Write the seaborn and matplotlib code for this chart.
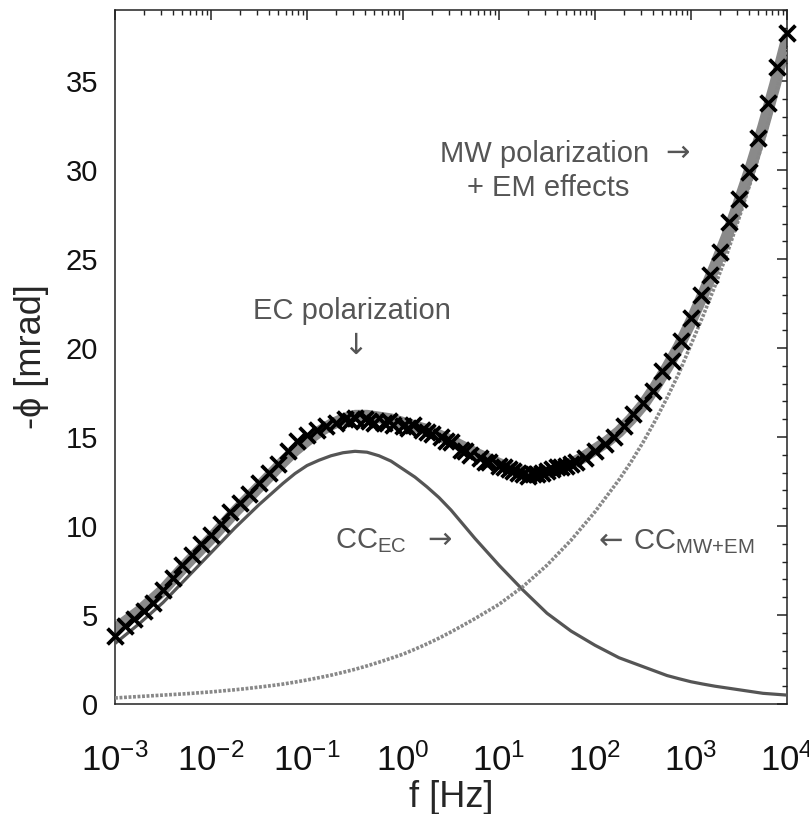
import numpy as np
import pandas as pd
import matplotlib
matplotlib.use("Agg")
import matplotlib.pyplot as plt
import seaborn as sns
from matplotlib.ticker import LogLocator, MultipleLocator, NullFormatter, FixedLocator

# ---------------- data ----------------
# measured data (log10 of frequency, -phi in mrad)
log_f_data = [-3.0, -2.9, -2.8, -2.7, -2.6, -2.5, -2.4, -2.3, -2.2, -2.1,
              -2.0, -1.9, -1.8, -1.7, -1.6, -1.5, -1.4, -1.3, -1.2, -1.1,
              -1.0, -0.9, -0.8, -0.7, -0.6, -0.5, -0.4, -0.3, -0.2, -0.1,
              0.0, 0.1, 0.2, 0.3, 0.4, 0.5, 0.6, 0.7, 0.8, 0.9,
              1.0, 1.1, 1.2, 1.3, 1.4, 1.5, 1.6, 1.7, 1.8, 1.9,
              2.0, 2.1, 2.2, 2.3, 2.4, 2.5, 2.6, 2.7, 2.8, 2.9,
              3.0, 3.1, 3.2, 3.3, 3.4, 3.5, 3.6, 3.7, 3.8, 3.9, 4.0,
              -0.55, -0.35, -0.15, 0.05, 0.25, 0.45, 0.65, 0.85, 1.05,
              1.15, 1.25, 1.35, 1.45, 1.55, 1.65, 1.75]
phi_data = [3.8, 4.4, 4.8, 5.2, 5.7, 6.4, 7.1, 7.8, 8.4, 9.0,
            9.5, 10.1, 10.8, 11.3, 11.8, 12.4, 13.0, 13.5, 14.2, 14.8,
            15.1, 15.4, 15.6, 15.8, 16.0, 16.1, 16.0, 15.8, 15.8, 15.7,
            15.6, 15.7, 15.4, 15.2, 15.0, 14.7, 14.3, 14.0, 13.8, 13.6,
            13.4, 13.2, 13.0, 12.8, 12.9, 13.1, 13.3, 13.4, 13.6, 13.8,
            14.2, 14.6, 15.0, 15.6, 16.3, 16.9, 17.6, 18.7, 19.3, 20.4,
            21.7, 23.0, 24.1, 25.4, 27.1, 28.4, 29.9, 31.8, 33.8, 35.8, 37.7,
            15.9, 15.9, 15.9, 15.5, 15.3, 14.8, 14.2, 13.6, 13.3,
            13.1, 12.9, 12.9, 13.0, 13.2, 13.3, 13.5]

# model curves on a common log10(f) grid (1/8 decade)
log_f_model = [-3.0, -2.875, -2.75, -2.625, -2.5, -2.375, -2.25, -2.125,
               -2.0, -1.875, -1.75, -1.625, -1.5, -1.375, -1.25, -1.125,
               -1.0, -0.875, -0.75, -0.625, -0.5, -0.375, -0.25, -0.125,
               0.0, 0.125, 0.25, 0.375, 0.5, 0.625, 0.75, 0.875,
               1.0, 1.125, 1.25, 1.375, 1.5, 1.625, 1.75, 1.875,
               2.0, 2.125, 2.25, 2.375, 2.5, 2.625, 2.75, 2.875,
               3.0, 3.125, 3.25, 3.375, 3.5, 3.625, 3.75, 3.875, 4.0]
phi_fit = [4.2, 4.7, 5.2, 5.8, 6.4, 7.15, 7.9, 8.6,
           9.3, 10.05, 10.8, 11.5, 12.2, 12.9, 13.6, 14.25,
           14.8, 15.3, 15.7, 16.0, 16.2, 16.2, 16.1, 16.0,
           15.8, 15.6, 15.4, 15.1, 14.8, 14.45, 14.1, 13.8,
           13.5, 13.25, 13.05, 12.98, 13.0, 13.2, 13.5, 13.85,
           14.3, 14.75, 15.3, 16.0, 16.8, 17.8, 18.9, 20.1,
           21.5, 23.0, 24.6, 26.3, 28.2, 30.2, 32.4, 34.8, 37.4]
phi_cc_ec = [3.4, 3.95, 4.5, 5.1, 5.7, 6.4, 7.1, 7.8,
             8.5, 9.2, 9.9, 10.55, 11.2, 11.8, 12.4, 12.95,
             13.4, 13.7, 13.95, 14.12, 14.2, 14.15, 13.95, 13.65,
             13.2, 12.75, 12.2, 11.6, 10.9, 10.1, 9.3, 8.55,
             7.8, 7.1, 6.4, 5.75, 5.1, 4.6, 4.1, 3.7,
             3.3, 2.95, 2.6, 2.35, 2.1, 1.85, 1.6, 1.42,
             1.25, 1.12, 1.0, 0.9, 0.8, 0.7, 0.6, 0.55, 0.5]
phi_cc_mw = [0.34, 0.38, 0.42, 0.46, 0.5, 0.54, 0.58, 0.63,
             0.68, 0.74, 0.8, 0.87, 0.95, 1.03, 1.12, 1.23,
             1.35, 1.48, 1.62, 1.78, 1.95, 2.14, 2.35, 2.57,
             2.8, 3.08, 3.38, 3.7, 4.05, 4.42, 4.8, 5.2,
             5.6, 6.1, 6.6, 7.2, 7.8, 8.5, 9.2, 10.0,
             10.8, 11.7, 12.6, 13.6, 14.7, 15.9, 17.2, 18.6,
             20.2, 21.8, 23.5, 25.3, 27.3, 29.4, 31.6, 34.1, 36.8]

x_tick_exps = [-3, -2, -1, 0, 1, 2, 3, 4]
y_ticks = [0, 5, 10, 15, 20, 25, 30, 35]

# ---------------- style ----------------
sns.set_theme(style="white")
plt.rcParams['font.family'] = ['Liberation Sans', 'DejaVu Sans']
plt.rcParams['mathtext.fontset'] = 'custom'
plt.rcParams['mathtext.rm'] = 'Liberation Sans'
plt.rcParams['mathtext.it'] = 'Liberation Sans'
plt.rcParams['mathtext.default'] = 'regular'

fig = plt.figure(figsize=(8.09, 8.14), dpi=100)
ax = fig.add_axes([115 / 809, 1 - 704 / 814, (787 - 115) / 809, (704 - 10) / 814])

df_data = pd.DataFrame({"f": 10 ** np.array(log_f_data), "phi": phi_data})
df_model = pd.DataFrame({"f": 10 ** np.array(log_f_model), "fit": phi_fit,
                         "ec": phi_cc_ec, "mw": phi_cc_mw})

# fit (thick grey)
sns.lineplot(data=df_model, x="f", y="fit", ax=ax, color="#8a8a8a", linewidth=8.5,
             estimator=None, sort=True, zorder=2)
# CC_EC solid
sns.lineplot(data=df_model, x="f", y="ec", ax=ax, color="#555555", linewidth=2.3,
             estimator=None, sort=True, zorder=3)
# CC_MW+EM dotted
sns.lineplot(data=df_model, x="f", y="mw", ax=ax, color="#888888", linewidth=2.6,
             linestyle=(0, (0.8, 0.45)), estimator=None, sort=True, zorder=3)
# data crosses
sns.scatterplot(data=df_data, x="f", y="phi", ax=ax, marker="x", color="black",
                s=130, linewidth=2.7, zorder=5, clip_on=False)

ax.set_xscale("log")
ax.set_xlim(1e-3, 1e4)
ax.set_ylim(0, 39)

ax.xaxis.set_major_locator(FixedLocator([10.0 ** e for e in x_tick_exps]))
ax.set_xticklabels([r"$10^{%d}$" % e for e in x_tick_exps])
ax.xaxis.set_minor_locator(LogLocator(base=10, subs=np.arange(2, 10), numticks=20))
ax.xaxis.set_minor_formatter(NullFormatter())
ax.set_yticks(y_ticks)
ax.set_yticklabels([str(t) for t in y_ticks])
ax.yaxis.set_minor_locator(MultipleLocator(1))

ax.tick_params(which="both", direction="in", top=True, right=True, color="#222222")
ax.tick_params(which="major", length=7, width=1.1, pad=12)
ax.tick_params(axis="y", which="major", labelsize=21, labelcolor="#111111")
ax.tick_params(which="minor", length=3.5, width=1.0)
ax.tick_params(axis="x", which="major", labelsize=25, pad=28, labelcolor="#111111")

for sp in ax.spines.values():
    sp.set_color("#222222")
    sp.set_linewidth(1.1)

ax.set_xlabel("f [Hz]", fontsize=26, labelpad=2)
ax.set_ylabel("-ϕ [mrad]", fontsize=26, labelpad=12)

txt = "#555555"
arrow_font = "DejaVu Sans"


def lf(v):
    return 10 ** v


ax.text(lf(-0.53), 22.1, "EC polarization", ha="center", va="center", fontsize=21, color=txt)
ax.text(lf(-0.5), 20.1, "↓", ha="center", va="center", fontsize=21, color=txt,
        family=arrow_font)
ax.text(lf(0.385), 30.9, "MW polarization", ha="left", va="center", fontsize=21, color=txt)
ax.text(lf(2.86), 30.95, "→", ha="center", va="center", fontsize=21, color=txt,
        family=arrow_font)
ax.text(lf(1.51), 29.0, "+ EM effects", ha="center", va="center", fontsize=21, color=txt)
ax.text(lf(-0.708), 9.2, r"CC$_{EC}$", ha="left", va="center", fontsize=21, color=txt)
ax.text(lf(0.385), 9.25, "→", ha="center", va="center", fontsize=21, color=txt,
        family=arrow_font)
ax.text(lf(2.167), 9.15, "←", ha="center", va="center", fontsize=21, color=txt,
        family=arrow_font)
ax.text(lf(2.396), 9.1, r"CC$_{MW{+}EM}$", ha="left", va="center", fontsize=21, color=txt)

fig.savefig("out.png", dpi=100)
